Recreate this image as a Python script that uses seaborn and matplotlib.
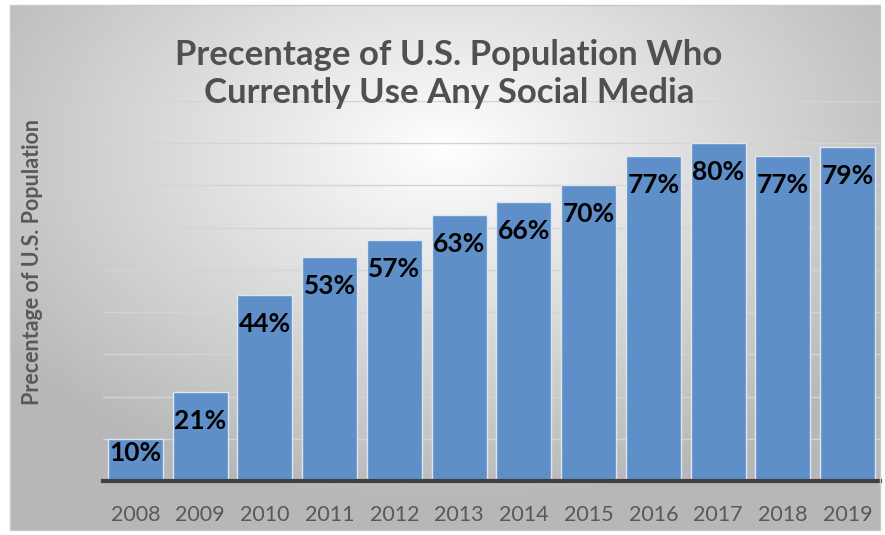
import numpy as np
import pandas as pd
import matplotlib
matplotlib.use("Agg")
import matplotlib.pyplot as plt
import seaborn as sns
from matplotlib.patches import Rectangle

# data
years = ["2008", "2009", "2010", "2011", "2012", "2013",
         "2014", "2015", "2016", "2017", "2018", "2019"]
share = [0.10, 0.21, 0.44, 0.53, 0.57, 0.63, 0.66, 0.70, 0.77, 0.80, 0.77, 0.79]
labels = ["10%", "21%", "44%", "53%", "57%", "63%", "66%", "70%", "77%", "80%", "77%", "79%"]

df = pd.DataFrame({"year": years, "share": share})

sns.set_theme(style="white")
plt.rcParams["font.family"] = ["Lato", "DejaVu Sans"]

fig = plt.figure(figsize=(8.85, 5.35), dpi=100)

# radial gradient background inside the chart frame (white centre -> grey edges)
bg = fig.add_axes([10 / 885, 5 / 535, 870 / 885, 525 / 535], zorder=0)
gx, gy = np.meshgrid(np.linspace(-1, 1, 400), np.linspace(-1, 1, 300))
r = np.sqrt((gx / 1.15) ** 2 + ((gy + 0.45) / 1.25) ** 2)
shade = np.clip(1.0 - 0.26 * r, 0.72, 1.0)
img = np.dstack([shade, shade, shade])
bg.imshow(img, aspect="auto", extent=[0, 1, 0, 1], interpolation="bilinear")
bg.set_xlim(0, 1)
bg.set_ylim(0, 1)
bg.axis("off")
fig.patches.append(Rectangle((10 / 885, 5 / 535), 870 / 885, 525 / 535,
                             transform=fig.transFigure, fill=False,
                             edgecolor="#c8c8c8", linewidth=1))

ax = fig.add_axes([103 / 885, 54 / 535, 777 / 885, 380 / 535], zorder=1)
ax.patch.set_alpha(0)
sns.barplot(data=df, x="year", y="share", color="#5f8fc8", saturation=1,
            width=0.85, edgecolor="#dce6f2", linewidth=1, ax=ax, zorder=3)

ax.set_ylim(0, 0.9)
ax.set_xlim(-0.5, 11.5)
ax.set_yticks(np.arange(0.1, 0.91, 0.1))
ax.yaxis.grid(True, color="#d4d4d4", linewidth=1)
ax.set_yticklabels([])
ax.tick_params(axis="y", length=0)
ax.tick_params(axis="x", length=0, labelsize=15.5, labelcolor="#595959", pad=17)
for s in ["top", "right", "left"]:
    ax.spines[s].set_visible(False)
ax.spines["bottom"].set_color("#404040")
ax.spines["bottom"].set_linewidth(3)
ax.spines["bottom"].set_zorder(4)

for i, (v, lab) in enumerate(zip(share, labels)):
    y = max(v - 0.068, v * 0.67)
    ax.text(i, y, lab, ha="center", va="center", fontsize=19,
            fontweight="bold", color="black", zorder=5)

ax.set_xlabel("")
ax.set_ylabel("")
fig.text(33 / 885, 1 - 262 / 535, "Precentage of U.S. Population", rotation=90,
         ha="center", va="center", fontsize=15.5, fontweight="bold", color="#595959")
fig.text(449 / 885, 1 - 74 / 535,
         "Precentage of U.S. Population Who\nCurrently Use Any Social Media",
         ha="center", va="center", fontsize=25, fontweight="bold",
         color="#505050", linespacing=1.2, zorder=6)

fig.savefig("out.png", dpi=100)
